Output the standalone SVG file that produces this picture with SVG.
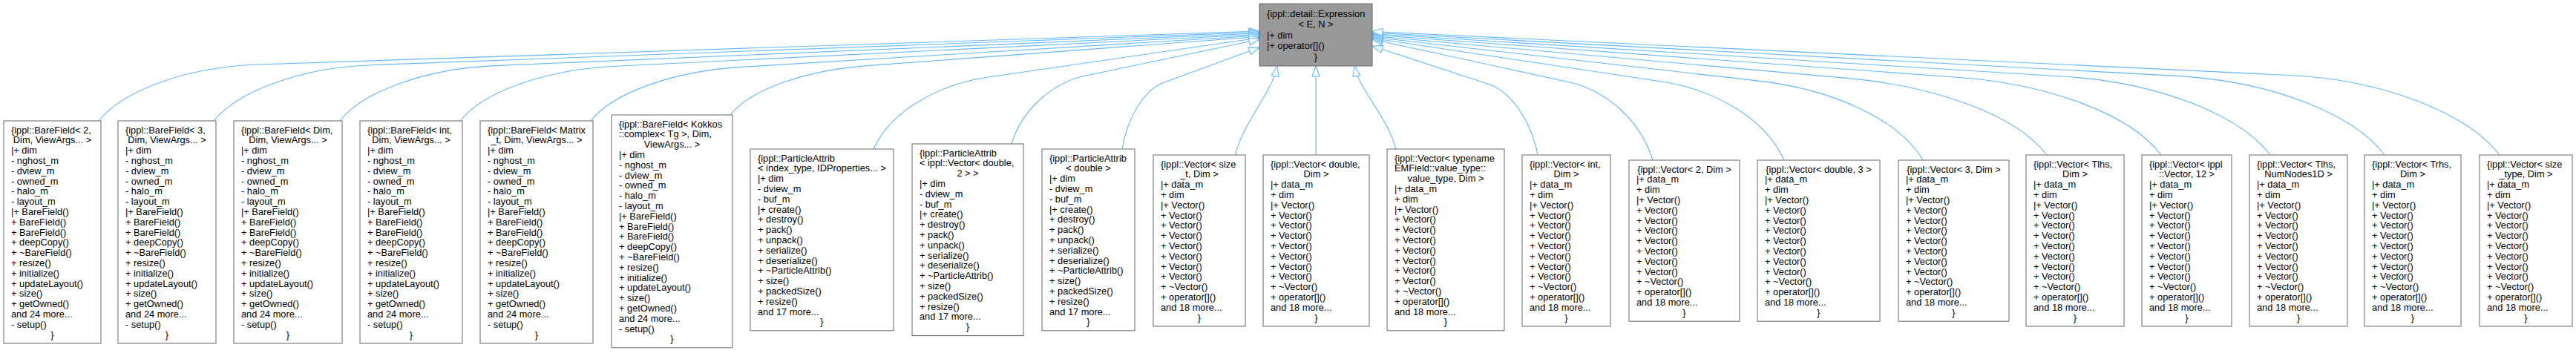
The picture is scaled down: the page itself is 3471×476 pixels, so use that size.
<svg xmlns="http://www.w3.org/2000/svg" width="3471" height="476" viewBox="0 0 3471 476">
<defs>
<style>
.node rect{fill:#fff;stroke:#666;stroke-width:1}
#top rect{fill:#999}
text{font-family:"Liberation Sans",Arial,Helvetica,sans-serif;font-size:12.8px;fill:#000}
.c{text-anchor:middle}
.edges path{fill:none;stroke:#63B8FF;stroke-width:1.1;marker-end:url(#ah)}
</style>
<marker id="ah" markerUnits="userSpaceOnUse" markerWidth="16" markerHeight="12" refX="15" refY="5.5" orient="auto" overflow="visible">
<path d="M1,0.5 L15,5.5 L1,10.5 Z" fill="#fff" stroke="#63B8FF" stroke-width="1.1"/>
</marker>
</defs>
<rect width="3471" height="476" fill="#fff"/>
<g class="edges">
<path d="M133,163 C165,122.5 251,90 348,87 L1697,42"/>
<path d="M288,163 C320,123 405,91.2 500,87.7 L1697,43.5"/>
<path d="M458,163 C489,123.5 573,92.6 667,88.6 L1697,45"/>
<path d="M620,163 C651,124 734,94.1 826,89.5 L1697,46.5"/>
<path d="M796,163 C826,124.5 908,96 999,90.4 L1697,48"/>
<path d="M984,155 C1012,119.6 1087,94.6 1171,88.4 L1697,49.5"/>
<path d="M1177,201 C1200,150 1263,113.8 1333,103.7 L1697,51"/>
<path d="M1363,194 C1378,146 1419,111.3 1463,102 L1697,53"/>
<path d="M1512,201 C1520,154.5 1544,120.1 1567.5,111.5 L1697,64"/>
<path d="M1664,209 C1678,160 1713,127 1721,89"/>
<path d="M1773,209 L1773,89"/>
<path d="M1881,201 C1868,155 1832,122 1825,89"/>
<path d="M2072,209 C2062,159 2034,122.6 2005,113.2 L1849,62"/>
<path d="M2227,216 C2210,160.9 2163,121.6 2114,110.7 L1849,53"/>
<path d="M2404,216 C2379,160.4 2312,120.9 2237.5,109.8 L1849,51.5"/>
<path d="M2591,216 C2558,159.9 2468,120.2 2368,108.9 L1849,50"/>
<path d="M2758,209 C2717,154.7 2608,115.9 2486,105.1 L1849,48.5"/>
<path d="M2912,209 C2871,154.2 2761,113.1 2637,104.2 L1849,47"/>
<path d="M3059,209 C3017,153.7 2906,111 2782,103.3 L1849,45.5"/>
<path d="M3213,209 C3171,153.2 3059,109.2 2933,102.4 L1849,44"/>
<path d="M3368,209 C3325,152.7 3212,107.6 3085,101.5 L1849,42.5"/>
</g>
<g id="top" class="node"><rect x="1697" y="5" width="152" height="84"/>
<text x="1707" y="22.5">{ippl::detail::Expression</text>
<text class="c" x="1773" y="37">&lt; E, N &gt;</text>
<text x="1707" y="51.5">|+ dim<tspan x="1707" dy="14.5">|+ operator[]()</tspan></text>
<text class="c" x="1773" y="80.5">}</text>
</g>
<g id="n1" class="node"><rect x="5" y="163" width="131" height="300"/>
<text x="15" y="179.5">{ippl::BareField&lt; 2,</text>
<text class="c" x="70.5" y="193.3">Dim, ViewArgs... &gt;</text>
<text x="15" y="207.1">|+ dim<tspan x="15" dy="13.8">- nghost_m</tspan><tspan x="15" dy="13.8">- dview_m</tspan><tspan x="15" dy="13.8">- owned_m</tspan><tspan x="15" dy="13.8">- halo_m</tspan><tspan x="15" dy="13.8">- layout_m</tspan><tspan x="15" dy="13.8">|+ BareField()</tspan><tspan x="15" dy="13.8">+ BareField()</tspan><tspan x="15" dy="13.8">+ BareField()</tspan><tspan x="15" dy="13.8">+ deepCopy()</tspan><tspan x="15" dy="13.8">+ ~BareField()</tspan><tspan x="15" dy="13.8">+ resize()</tspan><tspan x="15" dy="13.8">+ initialize()</tspan><tspan x="15" dy="13.8">+ updateLayout()</tspan><tspan x="15" dy="13.8">+ size()</tspan><tspan x="15" dy="13.8">+ getOwned()</tspan><tspan x="15" dy="13.8">and 24 more...</tspan><tspan x="15" dy="13.8">- setup()</tspan></text>
<text class="c" x="70.5" y="455.5">}</text>
</g>
<g id="n2" class="node"><rect x="159" y="163" width="132" height="300"/>
<text x="169" y="179.5">{ippl::BareField&lt; 3,</text>
<text class="c" x="225" y="193.3">Dim, ViewArgs... &gt;</text>
<text x="169" y="207.1">|+ dim<tspan x="169" dy="13.8">- nghost_m</tspan><tspan x="169" dy="13.8">- dview_m</tspan><tspan x="169" dy="13.8">- owned_m</tspan><tspan x="169" dy="13.8">- halo_m</tspan><tspan x="169" dy="13.8">- layout_m</tspan><tspan x="169" dy="13.8">|+ BareField()</tspan><tspan x="169" dy="13.8">+ BareField()</tspan><tspan x="169" dy="13.8">+ BareField()</tspan><tspan x="169" dy="13.8">+ deepCopy()</tspan><tspan x="169" dy="13.8">+ ~BareField()</tspan><tspan x="169" dy="13.8">+ resize()</tspan><tspan x="169" dy="13.8">+ initialize()</tspan><tspan x="169" dy="13.8">+ updateLayout()</tspan><tspan x="169" dy="13.8">+ size()</tspan><tspan x="169" dy="13.8">+ getOwned()</tspan><tspan x="169" dy="13.8">and 24 more...</tspan><tspan x="169" dy="13.8">- setup()</tspan></text>
<text class="c" x="225" y="455.5">}</text>
</g>
<g id="n3" class="node"><rect x="315" y="163" width="146" height="300"/>
<text x="325" y="179.5">{ippl::BareField&lt; Dim,</text>
<text class="c" x="388" y="193.3">Dim, ViewArgs... &gt;</text>
<text x="325" y="207.1">|+ dim<tspan x="325" dy="13.8">- nghost_m</tspan><tspan x="325" dy="13.8">- dview_m</tspan><tspan x="325" dy="13.8">- owned_m</tspan><tspan x="325" dy="13.8">- halo_m</tspan><tspan x="325" dy="13.8">- layout_m</tspan><tspan x="325" dy="13.8">|+ BareField()</tspan><tspan x="325" dy="13.8">+ BareField()</tspan><tspan x="325" dy="13.8">+ BareField()</tspan><tspan x="325" dy="13.8">+ deepCopy()</tspan><tspan x="325" dy="13.8">+ ~BareField()</tspan><tspan x="325" dy="13.8">+ resize()</tspan><tspan x="325" dy="13.8">+ initialize()</tspan><tspan x="325" dy="13.8">+ updateLayout()</tspan><tspan x="325" dy="13.8">+ size()</tspan><tspan x="325" dy="13.8">+ getOwned()</tspan><tspan x="325" dy="13.8">and 24 more...</tspan><tspan x="325" dy="13.8">- setup()</tspan></text>
<text class="c" x="388" y="455.5">}</text>
</g>
<g id="n4" class="node"><rect x="485" y="163" width="138" height="300"/>
<text x="495" y="179.5">{ippl::BareField&lt; int,</text>
<text class="c" x="554" y="193.3">Dim, ViewArgs... &gt;</text>
<text x="495" y="207.1">|+ dim<tspan x="495" dy="13.8">- nghost_m</tspan><tspan x="495" dy="13.8">- dview_m</tspan><tspan x="495" dy="13.8">- owned_m</tspan><tspan x="495" dy="13.8">- halo_m</tspan><tspan x="495" dy="13.8">- layout_m</tspan><tspan x="495" dy="13.8">|+ BareField()</tspan><tspan x="495" dy="13.8">+ BareField()</tspan><tspan x="495" dy="13.8">+ BareField()</tspan><tspan x="495" dy="13.8">+ deepCopy()</tspan><tspan x="495" dy="13.8">+ ~BareField()</tspan><tspan x="495" dy="13.8">+ resize()</tspan><tspan x="495" dy="13.8">+ initialize()</tspan><tspan x="495" dy="13.8">+ updateLayout()</tspan><tspan x="495" dy="13.8">+ size()</tspan><tspan x="495" dy="13.8">+ getOwned()</tspan><tspan x="495" dy="13.8">and 24 more...</tspan><tspan x="495" dy="13.8">- setup()</tspan></text>
<text class="c" x="554" y="455.5">}</text>
</g>
<g id="n5" class="node"><rect x="647" y="163" width="152" height="300"/>
<text x="657" y="179.5">{ippl::BareField&lt; Matrix</text>
<text class="c" x="723" y="193.3">_t, Dim, ViewArgs... &gt;</text>
<text x="657" y="207.1">|+ dim<tspan x="657" dy="13.8">- nghost_m</tspan><tspan x="657" dy="13.8">- dview_m</tspan><tspan x="657" dy="13.8">- owned_m</tspan><tspan x="657" dy="13.8">- halo_m</tspan><tspan x="657" dy="13.8">- layout_m</tspan><tspan x="657" dy="13.8">|+ BareField()</tspan><tspan x="657" dy="13.8">+ BareField()</tspan><tspan x="657" dy="13.8">+ BareField()</tspan><tspan x="657" dy="13.8">+ deepCopy()</tspan><tspan x="657" dy="13.8">+ ~BareField()</tspan><tspan x="657" dy="13.8">+ resize()</tspan><tspan x="657" dy="13.8">+ initialize()</tspan><tspan x="657" dy="13.8">+ updateLayout()</tspan><tspan x="657" dy="13.8">+ size()</tspan><tspan x="657" dy="13.8">+ getOwned()</tspan><tspan x="657" dy="13.8">and 24 more...</tspan><tspan x="657" dy="13.8">- setup()</tspan></text>
<text class="c" x="723" y="455.5">}</text>
</g>
<g id="n6" class="node"><rect x="824" y="155" width="163" height="313.8"/>
<text x="834" y="171.5">{ippl::BareField&lt; Kokkos<tspan x="834" dy="13.8">::complex&lt; Tg &gt;, Dim,</tspan></text>
<text class="c" x="905.5" y="199.1">ViewArgs... &gt;</text>
<text x="834" y="212.9">|+ dim<tspan x="834" dy="13.8">- nghost_m</tspan><tspan x="834" dy="13.8">- dview_m</tspan><tspan x="834" dy="13.8">- owned_m</tspan><tspan x="834" dy="13.8">- halo_m</tspan><tspan x="834" dy="13.8">- layout_m</tspan><tspan x="834" dy="13.8">|+ BareField()</tspan><tspan x="834" dy="13.8">+ BareField()</tspan><tspan x="834" dy="13.8">+ BareField()</tspan><tspan x="834" dy="13.8">+ deepCopy()</tspan><tspan x="834" dy="13.8">+ ~BareField()</tspan><tspan x="834" dy="13.8">+ resize()</tspan><tspan x="834" dy="13.8">+ initialize()</tspan><tspan x="834" dy="13.8">+ updateLayout()</tspan><tspan x="834" dy="13.8">+ size()</tspan><tspan x="834" dy="13.8">+ getOwned()</tspan><tspan x="834" dy="13.8">and 24 more...</tspan><tspan x="834" dy="13.8">- setup()</tspan></text>
<text class="c" x="905.5" y="461.3">}</text>
</g>
<g id="n7" class="node"><rect x="1011" y="201" width="193" height="244.8"/>
<text x="1021" y="217.5">{ippl::ParticleAttrib</text>
<text class="c" x="1107.5" y="231.3">&lt; index_type, IDProperties... &gt;</text>
<text x="1021" y="245.1">|+ dim<tspan x="1021" dy="13.8">- dview_m</tspan><tspan x="1021" dy="13.8">- buf_m</tspan><tspan x="1021" dy="13.8">|+ create()</tspan><tspan x="1021" dy="13.8">+ destroy()</tspan><tspan x="1021" dy="13.8">+ pack()</tspan><tspan x="1021" dy="13.8">+ unpack()</tspan><tspan x="1021" dy="13.8">+ serialize()</tspan><tspan x="1021" dy="13.8">+ deserialize()</tspan><tspan x="1021" dy="13.8">+ ~ParticleAttrib()</tspan><tspan x="1021" dy="13.8">+ size()</tspan><tspan x="1021" dy="13.8">+ packedSize()</tspan><tspan x="1021" dy="13.8">+ resize()</tspan><tspan x="1021" dy="13.8">and 17 more...</tspan></text>
<text class="c" x="1107.5" y="438.3">}</text>
</g>
<g id="n8" class="node"><rect x="1229" y="194" width="150" height="258.6"/>
<text x="1239" y="210.5">{ippl::ParticleAttrib<tspan x="1239" dy="13.8">&lt; ippl::Vector&lt; double,</tspan></text>
<text class="c" x="1304" y="238.1">2 &gt; &gt;</text>
<text x="1239" y="251.9">|+ dim<tspan x="1239" dy="13.8">- dview_m</tspan><tspan x="1239" dy="13.8">- buf_m</tspan><tspan x="1239" dy="13.8">|+ create()</tspan><tspan x="1239" dy="13.8">+ destroy()</tspan><tspan x="1239" dy="13.8">+ pack()</tspan><tspan x="1239" dy="13.8">+ unpack()</tspan><tspan x="1239" dy="13.8">+ serialize()</tspan><tspan x="1239" dy="13.8">+ deserialize()</tspan><tspan x="1239" dy="13.8">+ ~ParticleAttrib()</tspan><tspan x="1239" dy="13.8">+ size()</tspan><tspan x="1239" dy="13.8">+ packedSize()</tspan><tspan x="1239" dy="13.8">+ resize()</tspan><tspan x="1239" dy="13.8">and 17 more...</tspan></text>
<text class="c" x="1304" y="445.1">}</text>
</g>
<g id="n9" class="node"><rect x="1404" y="201" width="125" height="244.8"/>
<text x="1414" y="217.5">{ippl::ParticleAttrib</text>
<text class="c" x="1466.5" y="231.3">&lt; double &gt;</text>
<text x="1414" y="245.1">|+ dim<tspan x="1414" dy="13.8">- dview_m</tspan><tspan x="1414" dy="13.8">- buf_m</tspan><tspan x="1414" dy="13.8">|+ create()</tspan><tspan x="1414" dy="13.8">+ destroy()</tspan><tspan x="1414" dy="13.8">+ pack()</tspan><tspan x="1414" dy="13.8">+ unpack()</tspan><tspan x="1414" dy="13.8">+ serialize()</tspan><tspan x="1414" dy="13.8">+ deserialize()</tspan><tspan x="1414" dy="13.8">+ ~ParticleAttrib()</tspan><tspan x="1414" dy="13.8">+ size()</tspan><tspan x="1414" dy="13.8">+ packedSize()</tspan><tspan x="1414" dy="13.8">+ resize()</tspan><tspan x="1414" dy="13.8">and 17 more...</tspan></text>
<text class="c" x="1466.5" y="438.3">}</text>
</g>
<g id="n10" class="node"><rect x="1554" y="209" width="124" height="231"/>
<text x="1564" y="225.5">{ippl::Vector&lt; size</text>
<text class="c" x="1616" y="239.3">_t, Dim &gt;</text>
<text x="1564" y="253.1">|+ data_m<tspan x="1564" dy="13.8">+ dim</tspan><tspan x="1564" dy="13.8">|+ Vector()</tspan><tspan x="1564" dy="13.8">+ Vector()</tspan><tspan x="1564" dy="13.8">+ Vector()</tspan><tspan x="1564" dy="13.8">+ Vector()</tspan><tspan x="1564" dy="13.8">+ Vector()</tspan><tspan x="1564" dy="13.8">+ Vector()</tspan><tspan x="1564" dy="13.8">+ Vector()</tspan><tspan x="1564" dy="13.8">+ Vector()</tspan><tspan x="1564" dy="13.8">+ ~Vector()</tspan><tspan x="1564" dy="13.8">+ operator[]()</tspan><tspan x="1564" dy="13.8">and 18 more...</tspan></text>
<text class="c" x="1616" y="432.5">}</text>
</g>
<g id="n11" class="node"><rect x="1702" y="209" width="143" height="231"/>
<text x="1712" y="225.5">{ippl::Vector&lt; double,</text>
<text class="c" x="1773.5" y="239.3">Dim &gt;</text>
<text x="1712" y="253.1">|+ data_m<tspan x="1712" dy="13.8">+ dim</tspan><tspan x="1712" dy="13.8">|+ Vector()</tspan><tspan x="1712" dy="13.8">+ Vector()</tspan><tspan x="1712" dy="13.8">+ Vector()</tspan><tspan x="1712" dy="13.8">+ Vector()</tspan><tspan x="1712" dy="13.8">+ Vector()</tspan><tspan x="1712" dy="13.8">+ Vector()</tspan><tspan x="1712" dy="13.8">+ Vector()</tspan><tspan x="1712" dy="13.8">+ Vector()</tspan><tspan x="1712" dy="13.8">+ ~Vector()</tspan><tspan x="1712" dy="13.8">+ operator[]()</tspan><tspan x="1712" dy="13.8">and 18 more...</tspan></text>
<text class="c" x="1773.5" y="432.5">}</text>
</g>
<g id="n12" class="node"><rect x="1869" y="201" width="158" height="244.8"/>
<text x="1879" y="217.5">{ippl::Vector&lt; typename<tspan x="1879" dy="13.8">EMField::value_type::</tspan></text>
<text class="c" x="1948" y="245.1">value_type, Dim &gt;</text>
<text x="1879" y="258.9">|+ data_m<tspan x="1879" dy="13.8">+ dim</tspan><tspan x="1879" dy="13.8">|+ Vector()</tspan><tspan x="1879" dy="13.8">+ Vector()</tspan><tspan x="1879" dy="13.8">+ Vector()</tspan><tspan x="1879" dy="13.8">+ Vector()</tspan><tspan x="1879" dy="13.8">+ Vector()</tspan><tspan x="1879" dy="13.8">+ Vector()</tspan><tspan x="1879" dy="13.8">+ Vector()</tspan><tspan x="1879" dy="13.8">+ Vector()</tspan><tspan x="1879" dy="13.8">+ ~Vector()</tspan><tspan x="1879" dy="13.8">+ operator[]()</tspan><tspan x="1879" dy="13.8">and 18 more...</tspan></text>
<text class="c" x="1948" y="438.3">}</text>
</g>
<g id="n13" class="node"><rect x="2051" y="209" width="119" height="231"/>
<text x="2061" y="225.5">{ippl::Vector&lt; int,</text>
<text class="c" x="2110.5" y="239.3">Dim &gt;</text>
<text x="2061" y="253.1">|+ data_m<tspan x="2061" dy="13.8">+ dim</tspan><tspan x="2061" dy="13.8">|+ Vector()</tspan><tspan x="2061" dy="13.8">+ Vector()</tspan><tspan x="2061" dy="13.8">+ Vector()</tspan><tspan x="2061" dy="13.8">+ Vector()</tspan><tspan x="2061" dy="13.8">+ Vector()</tspan><tspan x="2061" dy="13.8">+ Vector()</tspan><tspan x="2061" dy="13.8">+ Vector()</tspan><tspan x="2061" dy="13.8">+ Vector()</tspan><tspan x="2061" dy="13.8">+ ~Vector()</tspan><tspan x="2061" dy="13.8">+ operator[]()</tspan><tspan x="2061" dy="13.8">and 18 more...</tspan></text>
<text class="c" x="2110.5" y="432.5">}</text>
</g>
<g id="n14" class="node"><rect x="2195" y="216" width="149" height="217.2"/>
<text class="c" x="2269.5" y="232.5">{ippl::Vector&lt; 2, Dim &gt;</text>
<text x="2205" y="246.3">|+ data_m<tspan x="2205" dy="13.8">+ dim</tspan><tspan x="2205" dy="13.8">|+ Vector()</tspan><tspan x="2205" dy="13.8">+ Vector()</tspan><tspan x="2205" dy="13.8">+ Vector()</tspan><tspan x="2205" dy="13.8">+ Vector()</tspan><tspan x="2205" dy="13.8">+ Vector()</tspan><tspan x="2205" dy="13.8">+ Vector()</tspan><tspan x="2205" dy="13.8">+ Vector()</tspan><tspan x="2205" dy="13.8">+ Vector()</tspan><tspan x="2205" dy="13.8">+ ~Vector()</tspan><tspan x="2205" dy="13.8">+ operator[]()</tspan><tspan x="2205" dy="13.8">and 18 more...</tspan></text>
<text class="c" x="2269.5" y="425.7">}</text>
</g>
<g id="n15" class="node"><rect x="2368" y="216" width="165" height="217.2"/>
<text class="c" x="2450.5" y="232.5">{ippl::Vector&lt; double, 3 &gt;</text>
<text x="2378" y="246.3">|+ data_m<tspan x="2378" dy="13.8">+ dim</tspan><tspan x="2378" dy="13.8">|+ Vector()</tspan><tspan x="2378" dy="13.8">+ Vector()</tspan><tspan x="2378" dy="13.8">+ Vector()</tspan><tspan x="2378" dy="13.8">+ Vector()</tspan><tspan x="2378" dy="13.8">+ Vector()</tspan><tspan x="2378" dy="13.8">+ Vector()</tspan><tspan x="2378" dy="13.8">+ Vector()</tspan><tspan x="2378" dy="13.8">+ Vector()</tspan><tspan x="2378" dy="13.8">+ ~Vector()</tspan><tspan x="2378" dy="13.8">+ operator[]()</tspan><tspan x="2378" dy="13.8">and 18 more...</tspan></text>
<text class="c" x="2450.5" y="425.7">}</text>
</g>
<g id="n16" class="node"><rect x="2558" y="216" width="149" height="217.2"/>
<text class="c" x="2632.5" y="232.5">{ippl::Vector&lt; 3, Dim &gt;</text>
<text x="2568" y="246.3">|+ data_m<tspan x="2568" dy="13.8">+ dim</tspan><tspan x="2568" dy="13.8">|+ Vector()</tspan><tspan x="2568" dy="13.8">+ Vector()</tspan><tspan x="2568" dy="13.8">+ Vector()</tspan><tspan x="2568" dy="13.8">+ Vector()</tspan><tspan x="2568" dy="13.8">+ Vector()</tspan><tspan x="2568" dy="13.8">+ Vector()</tspan><tspan x="2568" dy="13.8">+ Vector()</tspan><tspan x="2568" dy="13.8">+ Vector()</tspan><tspan x="2568" dy="13.8">+ ~Vector()</tspan><tspan x="2568" dy="13.8">+ operator[]()</tspan><tspan x="2568" dy="13.8">and 18 more...</tspan></text>
<text class="c" x="2632.5" y="425.7">}</text>
</g>
<g id="n17" class="node"><rect x="2730" y="209" width="132" height="231"/>
<text x="2740" y="225.5">{ippl::Vector&lt; Tlhs,</text>
<text class="c" x="2796" y="239.3">Dim &gt;</text>
<text x="2740" y="253.1">|+ data_m<tspan x="2740" dy="13.8">+ dim</tspan><tspan x="2740" dy="13.8">|+ Vector()</tspan><tspan x="2740" dy="13.8">+ Vector()</tspan><tspan x="2740" dy="13.8">+ Vector()</tspan><tspan x="2740" dy="13.8">+ Vector()</tspan><tspan x="2740" dy="13.8">+ Vector()</tspan><tspan x="2740" dy="13.8">+ Vector()</tspan><tspan x="2740" dy="13.8">+ Vector()</tspan><tspan x="2740" dy="13.8">+ Vector()</tspan><tspan x="2740" dy="13.8">+ ~Vector()</tspan><tspan x="2740" dy="13.8">+ operator[]()</tspan><tspan x="2740" dy="13.8">and 18 more...</tspan></text>
<text class="c" x="2796" y="432.5">}</text>
</g>
<g id="n18" class="node"><rect x="2886" y="209" width="121" height="231"/>
<text x="2896" y="225.5">{ippl::Vector&lt; ippl</text>
<text class="c" x="2946.5" y="239.3">::Vector, 12 &gt;</text>
<text x="2896" y="253.1">|+ data_m<tspan x="2896" dy="13.8">+ dim</tspan><tspan x="2896" dy="13.8">|+ Vector()</tspan><tspan x="2896" dy="13.8">+ Vector()</tspan><tspan x="2896" dy="13.8">+ Vector()</tspan><tspan x="2896" dy="13.8">+ Vector()</tspan><tspan x="2896" dy="13.8">+ Vector()</tspan><tspan x="2896" dy="13.8">+ Vector()</tspan><tspan x="2896" dy="13.8">+ Vector()</tspan><tspan x="2896" dy="13.8">+ Vector()</tspan><tspan x="2896" dy="13.8">+ ~Vector()</tspan><tspan x="2896" dy="13.8">+ operator[]()</tspan><tspan x="2896" dy="13.8">and 18 more...</tspan></text>
<text class="c" x="2946.5" y="432.5">}</text>
</g>
<g id="n19" class="node"><rect x="3031" y="209" width="132" height="231"/>
<text x="3041" y="225.5">{ippl::Vector&lt; Tlhs,</text>
<text class="c" x="3097" y="239.3">NumNodes1D &gt;</text>
<text x="3041" y="253.1">|+ data_m<tspan x="3041" dy="13.8">+ dim</tspan><tspan x="3041" dy="13.8">|+ Vector()</tspan><tspan x="3041" dy="13.8">+ Vector()</tspan><tspan x="3041" dy="13.8">+ Vector()</tspan><tspan x="3041" dy="13.8">+ Vector()</tspan><tspan x="3041" dy="13.8">+ Vector()</tspan><tspan x="3041" dy="13.8">+ Vector()</tspan><tspan x="3041" dy="13.8">+ Vector()</tspan><tspan x="3041" dy="13.8">+ Vector()</tspan><tspan x="3041" dy="13.8">+ ~Vector()</tspan><tspan x="3041" dy="13.8">+ operator[]()</tspan><tspan x="3041" dy="13.8">and 18 more...</tspan></text>
<text class="c" x="3097" y="432.5">}</text>
</g>
<g id="n20" class="node"><rect x="3186" y="209" width="130" height="231"/>
<text x="3196" y="225.5">{ippl::Vector&lt; Trhs,</text>
<text class="c" x="3251" y="239.3">Dim &gt;</text>
<text x="3196" y="253.1">|+ data_m<tspan x="3196" dy="13.8">+ dim</tspan><tspan x="3196" dy="13.8">|+ Vector()</tspan><tspan x="3196" dy="13.8">+ Vector()</tspan><tspan x="3196" dy="13.8">+ Vector()</tspan><tspan x="3196" dy="13.8">+ Vector()</tspan><tspan x="3196" dy="13.8">+ Vector()</tspan><tspan x="3196" dy="13.8">+ Vector()</tspan><tspan x="3196" dy="13.8">+ Vector()</tspan><tspan x="3196" dy="13.8">+ Vector()</tspan><tspan x="3196" dy="13.8">+ ~Vector()</tspan><tspan x="3196" dy="13.8">+ operator[]()</tspan><tspan x="3196" dy="13.8">and 18 more...</tspan></text>
<text class="c" x="3251" y="432.5">}</text>
</g>
<g id="n21" class="node"><rect x="3341" y="209" width="125" height="231"/>
<text x="3351" y="225.5">{ippl::Vector&lt; size</text>
<text class="c" x="3403.5" y="239.3">_type, Dim &gt;</text>
<text x="3351" y="253.1">|+ data_m<tspan x="3351" dy="13.8">+ dim</tspan><tspan x="3351" dy="13.8">|+ Vector()</tspan><tspan x="3351" dy="13.8">+ Vector()</tspan><tspan x="3351" dy="13.8">+ Vector()</tspan><tspan x="3351" dy="13.8">+ Vector()</tspan><tspan x="3351" dy="13.8">+ Vector()</tspan><tspan x="3351" dy="13.8">+ Vector()</tspan><tspan x="3351" dy="13.8">+ Vector()</tspan><tspan x="3351" dy="13.8">+ Vector()</tspan><tspan x="3351" dy="13.8">+ ~Vector()</tspan><tspan x="3351" dy="13.8">+ operator[]()</tspan><tspan x="3351" dy="13.8">and 18 more...</tspan></text>
<text class="c" x="3403.5" y="432.5">}</text>
</g>
</svg>
